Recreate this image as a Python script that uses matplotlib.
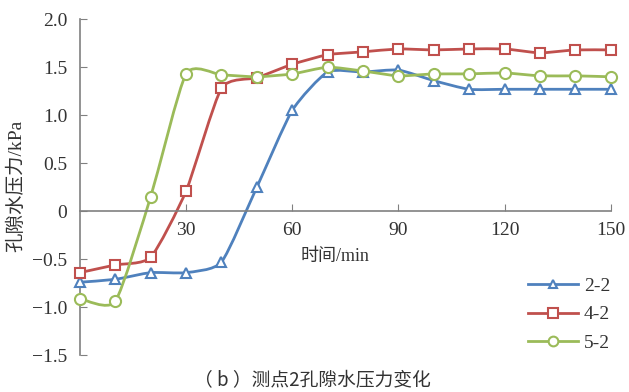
import numpy as np
import matplotlib.pyplot as plt
from matplotlib.path import Path
from matplotlib.patches import PathPatch
from matplotlib.lines import Line2D

plt.rcParams['font.family'] = ['Liberation Serif', 'Noto Sans CJK SC']
plt.rcParams['axes.unicode_minus'] = True

# time (min)
t = [0, 10, 20, 30, 40, 50, 60, 70, 80, 90, 100, 110, 120, 130, 140, 150]
# pore water pressure (kPa)
p_22 = [-0.74, -0.71, -0.64, -0.64, -0.53, 0.25, 1.05, 1.45, 1.45, 1.47, 1.36, 1.27, 1.27, 1.27, 1.27, 1.27]
p_42 = [-0.64, -0.56, -0.48, 0.21, 1.28, 1.39, 1.53, 1.63, 1.66, 1.69, 1.68, 1.69, 1.69, 1.65, 1.68, 1.68]
p_52 = [-0.91, -0.94, 0.15, 1.43, 1.42, 1.40, 1.43, 1.50, 1.46, 1.41, 1.43, 1.43, 1.44, 1.41, 1.41, 1.40]

labels = ['2-2', '4-2', '5-2']
colors = ['#4F81BD', '#C0504D', '#9BBB59']
markers = ['^', 's', 'o']
msizes = [7, 7.5, 8]


def smooth_path(x, y, k=10.0):
    # smoothed line like the spreadsheet one: cubic Bezier through the points
    pts = np.column_stack([x, y]).astype(float)
    n = len(pts)
    verts = [pts[0]]
    codes = [Path.MOVETO]
    for i in range(n - 1):
        p0 = pts[i - 1] if i > 0 else pts[i]
        p1 = pts[i]
        p2 = pts[i + 1]
        p3 = pts[i + 2] if i + 2 < n else pts[i + 1]
        c1 = p1 + (p2 - p0) / k
        c2 = p2 - (p3 - p1) / k
        verts += [c1, c2, p2]
        codes += [Path.CURVE4] * 3
    return Path(verts, codes)


fig = plt.figure(figsize=(6.29, 3.92), dpi=100)
ax = fig.add_axes([0.127, 0.094, 0.844, 0.857])

handles = []
for y, lab, c, m, ms in zip([p_22, p_42, p_52], labels, colors, markers, msizes):
    ax.add_patch(PathPatch(smooth_path(t, y), facecolor='none', edgecolor=c,
                           lw=2, clip_on=False, zorder=2))
    ax.plot(t, y, linestyle='none', marker=m, ms=ms, mfc='white', mec=c,
            mew=1.5, clip_on=False, zorder=3)
    handles.append(Line2D([], [], color=c, lw=2, marker=m, ms=ms - 1,
                          mfc='white', mec=c, mew=1.5, label=lab))

ax.set_xlim(0, 150)
ax.set_ylim(-1.5, 2.0)
ax.set_xticks([30, 60, 90, 120, 150])
ax.set_yticks([-1.5, -1.0, -0.5, 0, 0.5, 1.0, 1.5, 2.0])
ax.set_yticklabels(['\u22121.5', '\u22121.0', '\u22120.5', '0', '0.5', '1.0', '1.5', '2.0'])

ax.spines['top'].set_visible(False)
ax.spines['right'].set_visible(False)
ax.spines['bottom'].set_position(('data', 0))
for s in ['left', 'bottom']:
    ax.spines[s].set_color('#808080')
    ax.spines[s].set_linewidth(1.2)
ax.tick_params(direction='in', length=5, color='#808080', labelsize=14,
               labelcolor='#333333')
ax.tick_params(axis='x', pad=8)
ax.tick_params(axis='y', pad=9)

fig.text(335 / 629, 1 - 257 / 392, '时间/min', ha='center', va='center',
         fontsize=13, color='#333333')
fig.text(16 / 629, 1 - 186 / 392, '孔隙水压力/kPa', ha='center', va='center',
         rotation=90, fontsize=14, color='#333333')
fig.text(312 / 629, 1 - 381 / 392, '（ b ）测点2孔隙水压力变化', ha='center',
         va='center', fontsize=13.5, color='#333333',
         family=['Noto Sans CJK SC', 'Liberation Serif'])

fig.legend(handles=handles, loc='upper left', frameon=False,
           bbox_to_anchor=(510 / 629, 1 - 260 / 392), fontsize=14,
           handlelength=2.6, labelspacing=0.55, handletextpad=0.3,
           labelcolor='#333333')

fig.savefig('out.png', dpi=100)
